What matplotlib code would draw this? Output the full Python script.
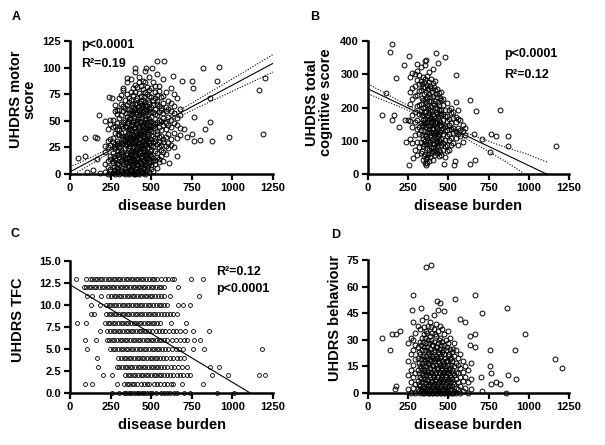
import matplotlib
matplotlib.use("Agg")
import matplotlib.pyplot as plt

plt.rcParams['font.family'] = ['Liberation Sans', 'DejaVu Sans']
plt.rcParams['font.weight'] = 'bold'

# ---- A: motor score vs disease burden (dense part as columns, then outliers)
motor_band_x = [215, 232, 248, 262, 275, 288, 300, 312, 325, 338, 350, 362, 375, 388,
                400, 412, 425, 438, 450, 462, 475, 488, 500, 512, 525, 538, 550, 563,
                575, 590, 605, 620, 640, 660, 680,
                343, 356, 369, 381, 394, 406, 419, 431, 444, 456, 469, 481, 494,
                318, 294, 268]
motor_band_y = [
    [2, 9, 21, 26],
    [0, 7, 12, 25, 31, 42],
    [3, 5, 14, 17, 27, 33, 47],
    [1, 10, 12, 20, 30, 34, 44, 51],
    [0, 4, 13, 15, 24, 28, 39, 45, 59, 65],
    [2, 6, 9, 18, 27, 31, 42, 48, 56],
    [0, 8, 16, 19, 25, 37, 41, 53, 60, 71],
    [3, 4, 12, 21, 23, 30, 39, 47, 55, 66, 74],
    [1, 9, 11, 17, 29, 33, 43, 49, 59, 64, 81],
    [0, 5, 14, 16, 24, 31, 35, 45, 51, 62, 70],
    [2, 3, 11, 18, 20, 28, 34, 37, 48, 54, 65, 75, 86],
    [0, 7, 10, 16, 26, 29, 39, 42, 52, 57, 68, 71],
    [4, 5, 13, 19, 21, 31, 33, 41, 46, 55, 60, 70, 77, 89],
    [1, 8, 9, 14, 23, 25, 33, 37, 46, 49, 58, 63, 74, 81],
    [0, 3, 11, 17, 20, 28, 32, 39, 44, 51, 61, 66, 77, 84, 96],
    [2, 6, 8, 15, 24, 26, 35, 38, 48, 50, 58, 67, 71, 82],
    [0, 4, 12, 18, 21, 30, 34, 42, 45, 55, 60, 64, 76, 86, 91],
    [3, 7, 10, 16, 22, 27, 37, 40, 49, 53, 62, 69, 73, 83],
    [1, 5, 13, 19, 24, 32, 36, 44, 47, 57, 63, 70, 80, 87],
    [0, 9, 11, 18, 26, 29, 38, 43, 51, 55, 65, 68, 77, 86, 97],
    [4, 6, 15, 21, 24, 33, 36, 46, 49, 59, 64, 75, 82],
    [2, 10, 14, 20, 29, 31, 41, 45, 52, 61, 66, 73, 79, 91],
    [5, 8, 17, 23, 27, 37, 40, 50, 54, 63, 72, 81],
    [3, 12, 15, 26, 29, 36, 45, 48, 58, 65, 70, 86],
    [9, 13, 22, 31, 34, 43, 47, 56, 61, 71, 77, 83],
    [6, 16, 20, 28, 38, 40, 49, 55, 66, 69, 74, 94],
    [11, 14, 25, 30, 35, 44, 51, 58, 64, 78, 83],
    [17, 23, 27, 36, 41, 50, 60, 62, 72],
    [12, 21, 30, 33, 46, 53, 57, 67, 73, 89],
    [19, 26, 35, 42, 48, 59, 63, 77],
    [24, 29, 38, 46, 54, 61, 69],
    [27, 33, 44, 51, 59, 67, 81],
    [25, 39, 48, 57, 64, 75],
    [34, 46, 53, 71],
    [43, 55, 61],
    [3, 10, 19, 27, 36, 44, 57],
    [1, 8, 15, 24, 30, 41, 50, 61],
    [4, 12, 18, 26, 35, 43, 53],
    [2, 7, 16, 22, 29, 38, 47, 56, 66],
    [0, 10, 13, 21, 30, 36, 43, 54, 60],
    [5, 9, 18, 23, 31, 40, 47, 56, 70],
    [1, 8, 14, 25, 28, 37, 44, 52, 63],
    [4, 11, 20, 24, 33, 39, 50, 57, 67],
    [2, 9, 17, 26, 30, 41, 46, 55, 65],
    [6, 12, 21, 28, 35, 40, 49, 60, 72],
    [3, 14, 19, 27, 32, 44, 52, 61],
    [8, 16, 25, 31, 38, 43, 56, 68],
    [11, 18, 22, 33, 42, 49, 58],
    [6, 14, 20, 28, 36, 45],
    [3, 10, 22, 29, 38],
    [4, 7, 17, 25],
]
motor_out_x = [47, 93, 93, 103, 144, 154, 164, 164, 177, 185, 216, 240, 247, 257, 288,
               329, 354, 403, 467, 504, 535, 580, 607, 637, 658, 678, 689, 705, 720, 751,
               751, 755, 761, 761, 802, 822, 833, 864, 864, 874, 908, 915, 977, 1162, 1188, 1203]
motor_out_y = [15, 17, 34, 2, 4, 35, 34, 14, 55, 1, 50, 72, 51, 71, 60,
               79, 90, 100, 100, 100, 106, 106, 10, 92, 17, 37, 87, 42, 35, 38,
               87, 81, 31, 54, 32, 100, 42, 71, 49, 31, 87, 101, 35, 79, 38, 90]
motor_fit_x = [0, 1250]
motor_fit_y = [2, 104]
motor_ci_x = [0, 150, 300, 420, 550, 700, 850, 1000, 1125, 1250]
motor_ci_hi = [6.5, 17.2, 28.3, 37.8, 48.8, 62.1, 75.8, 89.4, 100.8, 112.2]
motor_ci_lo = [-2.5, 11.2, 24.7, 34.8, 45.0, 56.1, 67.0, 77.8, 86.8, 95.8]

# ---- B: total cognitive score
cog_band_x = [260, 275, 290, 305, 318, 330, 342, 355, 368, 380, 392, 405, 418, 430,
              442, 455, 468, 480, 492, 505, 518, 530, 545, 560, 575, 590, 605,
              336, 349, 361, 374, 386, 398, 411, 424, 436, 449]
cog_band_y = [
    [105, 158, 212, 247, 293],
    [92, 140, 176, 226, 258, 304],
    [73, 116, 155, 186, 236, 266, 301],
    [58, 97, 135, 162, 205, 238, 283, 309],
    [82, 120, 141, 180, 207, 249, 271, 298],
    [63, 96, 132, 152, 189, 212, 254, 281, 322],
    [42, 84, 106, 143, 161, 199, 222, 263, 291],
    [33, 61, 99, 116, 149, 166, 202, 225, 261, 287, 328],
    [52, 77, 109, 127, 157, 175, 209, 231, 268, 296],
    [38, 73, 91, 122, 136, 166, 184, 219, 242, 278, 307],
    [63, 82, 112, 125, 154, 169, 201, 221, 258, 287],
    [42, 79, 94, 124, 137, 163, 181, 214, 235, 273, 317],
    [58, 82, 111, 127, 154, 169, 198, 219, 253, 281],
    [62, 93, 108, 138, 152, 181, 197, 231, 257],
    [53, 72, 103, 119, 146, 161, 191, 209, 243],
    [57, 88, 104, 133, 147, 176, 192, 223, 247],
    [73, 92, 121, 137, 163, 179, 208, 227],
    [52, 83, 101, 128, 145, 173, 191],
    [68, 87, 115, 132, 158, 175, 213],
    [72, 103, 119, 148, 165, 193],
    [88, 107, 135, 152, 183, 197],
    [92, 123, 139, 168, 185],
    [108, 127, 155, 172, 218],
    [87, 121, 137, 165, 192],
    [113, 132, 161],
    [97, 128, 147],
    [118, 137],
    [70, 118, 147, 176, 230, 272],
    [55, 90, 128, 157, 186, 240, 276],
    [44, 86, 113, 140, 188, 217, 246],
    [60, 100, 146, 178, 199, 255],
    [50, 97, 118, 145, 192, 233, 265],
    [70, 103, 134, 158, 190, 246],
    [66, 90, 116, 146, 175, 207, 262],
    [72, 99, 120, 143, 187, 240],
    [84, 115, 130, 170, 218],
    [66, 96, 126, 157, 183, 228],
]
cog_out_x = [89, 110, 139, 149, 151, 160, 172, 193, 224, 228, 238, 249, 253, 253, 280,
             307, 352, 359, 359, 369, 425, 435, 473, 477, 533, 539, 545, 632, 636, 657,
             663, 674, 711, 757, 763, 798, 819, 871, 871, 1167]
cog_out_y = [176, 245, 366, 391, 161, 176, 289, 140, 327, 163, 96, 163, 356, 28, 48,
             332, 339, 342, 26, 33, 364, 334, 30, 352, 26, 38, 297, 30, 224, 121,
             43, 188, 105, 66, 120, 113, 193, 113, 83, 83]
cog_fit_x = [0, 1110]
cog_fit_y = [256, 0]
cog_hi_x = [0, 150, 300, 420, 550, 700, 850, 976, 1120]
cog_hi_y = [271, 231.4, 192.8, 163.6, 135.7, 107.6, 81, 61.9, 34.7]
cog_lo_x = [0, 150, 300, 420, 550, 700, 850, 976]
cog_lo_y = [241, 211.4, 180.8, 154.6, 122.7, 81.6, 39, 0]

# ---- C: TFC (integer levels)
tfc_levels = [13, 12, 11, 10, 9, 8, 7, 6, 5, 4, 3, 2, 1, 0]
tfc_burden = [
    [37, 99, 121, 137, 152, 168, 185, 199, 216, 231, 247, 262, 279, 294, 310, 327, 342, 357,
     374, 390, 405, 421, 437, 452, 469, 486, 503, 520, 537, 560, 582, 604, 626, 640, 746, 822],
    [84, 100, 116, 131, 148, 163, 179, 195, 211, 226, 243, 258, 274, 290, 306, 321, 338, 353,
     369, 385, 401, 416, 433, 448, 464, 480, 497, 514, 530, 546, 561, 576, 664],
    [107, 134, 189, 236, 252, 268, 284, 300, 316, 332, 348, 364, 380, 396, 412, 428, 444, 460,
     476, 492, 508, 524, 540, 558, 576, 617, 792],
    [127, 185, 222, 238, 254, 270, 286, 302, 318, 334, 350, 366, 382, 398, 414, 430, 446, 462,
     478, 494, 510, 527, 545, 562, 579, 596, 668, 695, 736],
    [127, 148, 222, 238, 254, 270, 286, 302, 318, 334, 350, 366, 382, 398, 414, 430, 446, 462,
     478, 494, 510, 526, 542, 560, 578, 600, 618, 637, 658],
    [45, 99, 216, 232, 248, 264, 280, 296, 312, 328, 344, 360, 376, 392, 408, 424, 440, 456,
     472, 488, 504, 520, 537, 555, 621, 713],
    [185, 230, 246, 262, 278, 294, 310, 326, 342, 358, 374, 390, 406, 422, 438, 454, 470, 486,
     502, 530, 548, 566, 588, 610, 632, 654, 678, 709, 757, 857],
    [93, 160, 226, 242, 258, 274, 290, 306, 322, 338, 354, 370, 386, 402, 418, 434, 450, 466,
     482, 498, 514, 530, 546, 562, 578, 600, 625, 652, 680, 700, 720, 761, 798],
    [107, 247, 263, 279, 295, 311, 327, 343, 359, 375, 391, 407, 423, 439, 455, 471, 487, 503,
     519, 535, 551, 567, 585, 605, 627, 650, 672, 695, 757, 827, 1182],
    [164, 298, 314, 330, 346, 362, 378, 394, 410, 426, 442, 458, 474, 490, 506, 522, 538, 556,
     574, 594, 614, 636, 658, 678, 700],
    [175, 288, 304, 320, 336, 352, 368, 384, 400, 416, 432, 448, 464, 480, 496, 512, 528, 544,
     562, 580, 600, 620, 642, 664, 690, 720, 864, 915],
    [201, 257, 339, 355, 371, 387, 403, 419, 435, 451, 467, 483, 499, 515, 531, 547, 563, 580,
     598, 616, 636, 656, 676, 698, 720, 740, 876, 972, 1164, 1199],
    [93, 134, 288, 333, 349, 365, 381, 397, 413, 440, 456, 472, 488, 520, 536, 552, 580, 600,
     620, 637, 689, 822],
    [257, 300, 330, 346, 362, 378, 394, 410, 426, 442, 458, 474, 490, 506, 530, 560, 578, 596,
     614, 640, 658, 700, 740, 905, 1010],
]
tfc_fit_x = [0, 1110]
tfc_fit_y = [12.3, 0]

# ---- D: behaviour
beh_band_x = [250, 265, 280, 295, 310, 322, 335, 348, 360, 372, 385, 397, 410, 422,
              435, 448, 460, 472, 485, 498, 510, 522, 535, 548, 560, 575, 590, 605, 620, 640,
              316, 329, 341, 354, 366, 379, 391, 404, 416, 429, 441, 454, 466, 479, 491,
              504, 516, 529]
beh_band_y = [
    [2, 10, 18, 28],
    [0, 6, 13, 22, 31],
    [3, 9, 16, 24, 30, 40],
    [0, 5, 11, 19, 27, 34],
    [2, 7, 13, 20, 26, 38],
    [0, 4, 9, 15, 22, 29, 36],
    [1, 6, 11, 17, 24, 31, 41],
    [0, 3, 8, 13, 19, 26, 33, 37],
    [2, 5, 10, 15, 21, 28, 35, 43],
    [0, 4, 7, 12, 17, 23, 30, 38],
    [1, 5, 9, 14, 19, 25, 32, 40],
    [0, 3, 7, 11, 16, 21, 27, 34],
    [2, 5, 9, 13, 18, 23, 29, 36, 44],
    [0, 4, 8, 12, 16, 21, 26, 32, 39],
    [1, 5, 9, 14, 18, 23, 28, 35, 47],
    [0, 3, 7, 11, 15, 20, 25, 31, 38],
    [2, 6, 10, 14, 18, 23, 29, 36],
    [0, 4, 8, 12, 17, 22, 27, 33, 46],
    [1, 5, 9, 13, 18, 24, 30],
    [0, 3, 7, 11, 16, 21, 28, 35],
    [2, 6, 10, 14, 19, 25, 31],
    [0, 4, 8, 13, 18, 23],
    [1, 5, 10, 15, 21, 28],
    [0, 3, 8, 12, 17, 24],
    [2, 6, 11, 16, 20],
    [0, 4, 9, 14, 22],
    [1, 7, 12, 18],
    [3, 9, 15],
    [0, 6, 13],
    [2, 8, 17],
    [1, 5, 11, 17, 23],
    [2, 8, 14, 19, 27],
    [0, 4, 10, 15, 21, 29],
    [1, 6, 12, 18, 24, 31],
    [3, 8, 13, 19, 26, 34],
    [0, 2, 10, 16, 22, 28],
    [1, 6, 12, 18, 23, 30, 37],
    [0, 4, 10, 15, 20, 27],
    [2, 7, 11, 19, 24, 33],
    [0, 3, 9, 14, 20, 26],
    [1, 6, 12, 17, 22, 30],
    [0, 4, 8, 13, 21, 27],
    [2, 7, 11, 16, 24],
    [0, 3, 10, 15, 20],
    [1, 6, 12, 18, 26],
    [0, 4, 8, 13, 22],
    [2, 9, 16, 20],
    [0, 6, 11, 25],
]
beh_out_x = [89, 139, 151, 166, 176, 176, 197, 272, 280, 332, 359, 394, 429, 446, 539,
             570, 601, 632, 632, 663, 663, 663, 705, 709, 709, 757, 757, 763, 763, 798,
             819, 860, 864, 873, 912, 918, 974, 1165, 1204]
beh_out_y = [31, 24, 33, 2, 33, 4, 35, 47, 55, 48, 71, 72, 52, 51, 53,
             42, 40, 32, 27, 55, 33, 26, 9, 45, 1, 24, 15, 11, 5, 6,
             5, 0, 48, 10, 24, 8, 33, 19, 14]

x_ticks = [0, 250, 500, 750, 1000, 1250]


def flatten(band_x, band_y, out_x, out_y):
    xs = [x for x, ys in zip(band_x, band_y) for _ in ys] + list(out_x)
    ys = [y for ys in band_y for y in ys] + list(out_y)
    return xs, ys


def style_axes(ax, ylim, yticks, yfmt, ylabel, ylab_pos, letter, letter_pos):
    ax.set_xlim(0, 1250)
    ax.set_ylim(*ylim)
    ax.set_xticks(x_ticks)
    ax.set_yticks(yticks)
    ax.set_yticklabels([yfmt.format(v) for v in yticks])
    for s in ['top', 'right']:
        ax.spines[s].set_visible(False)
    for s in ['left', 'bottom']:
        ax.spines[s].set_linewidth(1.8)
    ax.tick_params(direction='out', length=4, width=1.6, labelsize=8, pad=2.5)
    ax.set_xlabel('disease burden', fontsize=10.5, fontweight='bold')
    ax.xaxis.set_label_coords(0.5, -0.19)
    ax.set_ylabel(ylabel, fontsize=10.5, fontweight='bold', linespacing=1.0)
    ax.yaxis.set_label_coords(*ylab_pos)
    fig.text(letter_pos[0] / 605, 1 - letter_pos[1] / 445, letter, fontsize=9,
             fontweight='bold', ha='center', va='center')


def scatter(ax, xs, ys, ms=3.5, mew=0.7):
    ax.plot(xs, ys, ls='none', marker='o', ms=ms, mfc='none', mec='black', mew=mew,
            clip_on=False, zorder=3)


fig = plt.figure(figsize=(6.05, 4.45), dpi=100)
axA = fig.add_axes([70 / 605, 1 - 174 / 445, 203 / 605, 133 / 445])
axB = fig.add_axes([368 / 605, 1 - 174 / 445, 201 / 605, 133 / 445])
axC = fig.add_axes([70 / 605, 1 - 393 / 445, 203 / 605, 132 / 445])
axD = fig.add_axes([368 / 605, 1 - 393 / 445, 201 / 605, 133 / 445])

# A
xs, ys = flatten(motor_band_x, motor_band_y, motor_out_x, motor_out_y)
scatter(axA, xs, ys)
axA.plot(motor_fit_x, motor_fit_y, color='black', lw=0.8)
axA.plot(motor_ci_x, motor_ci_hi, color='black', lw=0.8, ls=(0, (1, 1.5)))
axA.plot(motor_ci_x, motor_ci_lo, color='black', lw=0.8, ls=(0, (1, 1.5)))
style_axes(axA, (0, 125), [0, 25, 50, 75, 100, 125], '{}', 'UHDRS motor\nscore',
           (-0.165, 0.56), 'A', (16, 17))
axA.text(68, 118.5, 'p<0.0001', fontsize=9, fontweight='bold')
axA.text(68, 100.5, 'R²=0.19', fontsize=9, fontweight='bold')

# B
xs, ys = flatten(cog_band_x, cog_band_y, cog_out_x, cog_out_y)
scatter(axB, xs, ys)
axB.plot(cog_fit_x, cog_fit_y, color='black', lw=0.8)
axB.plot(cog_hi_x, cog_hi_y, color='black', lw=0.8, ls=(0, (1, 1.5)))
axB.plot(cog_lo_x, cog_lo_y, color='black', lw=0.8, ls=(0, (1, 1.5)))
style_axes(axB, (0, 400), [0, 100, 200, 300, 400], '{}', 'UHDRS total\ncognitive score',
           (-0.175, 0.54), 'B', (315, 17))
axB.text(846, 353, 'p<0.0001', fontsize=9, fontweight='bold')
axB.text(846, 290, 'R²=0.12', fontsize=9, fontweight='bold')

# C
tx = [x for row in tfc_burden for x in row]
ty = [lvl for lvl, row in zip(tfc_levels, tfc_burden) for _ in row]
scatter(axC, tx, ty, ms=2.8, mew=0.6)
axC.plot(tfc_fit_x, tfc_fit_y, color='black', lw=0.8)
style_axes(axC, (0, 15), [0, 2.5, 5, 7.5, 10, 12.5, 15], '{:.1f}', 'UHDRS TFC',
           (-0.222, 0.553), 'C', (15, 234))
axC.text(899, 13.4, 'R²=0.12', fontsize=9, fontweight='bold')
axC.text(899, 11.5, 'p<0.0001', fontsize=9, fontweight='bold')

# D
xs, ys = flatten(beh_band_x, beh_band_y, beh_out_x, beh_out_y)
scatter(axD, xs, ys)
style_axes(axD, (0, 75), [0, 15, 30, 45, 60, 75], '{}', 'UHDRS behaviour',
           (-0.13, 0.568), 'D', (336, 235))

fig.savefig('out.png', dpi=100)
